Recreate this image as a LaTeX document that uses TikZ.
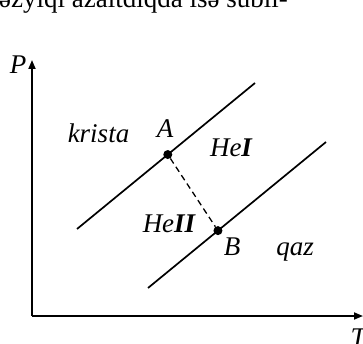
\documentclass[tikz,border=0pt]{standalone}
\usepackage{fontspec}
\setmainfont{Liberation Serif}
\newfontfamily\timesfont{Liberation Serif}
\usetikzlibrary{arrows.meta,calc}
\tikzset{
  axis/.style={-{Triangle[length=9pt,width=7pt]},line width=1.7pt},
  phaseline/.style={line width=1.7pt},
  tieline/.style={line width=1.3pt,dash pattern=on 6pt off 4pt},
  dot/.style={circle,fill,inner sep=0pt,minimum size=9pt},
  lbl/.style={font=\timesfont\fontsize{27}{30}\selectfont\itshape,inner sep=0pt},
  pagetext/.style={font=\timesfont\fontsize{27}{30}\selectfont,inner sep=0pt}
}

\begin{document}
\begin{tikzpicture}[x=1pt,y=-1pt]
  \useasboundingbox (0,0) rectangle (363,344);
  \clip (0,0) rectangle (363,344);
  % text line of the page above the figure
  \node[pagetext,anchor=base west] (pageline) at (-1,8) {əzyiqi azaltdıqda isə subli-};
  % axes
  \coordinate (O) at (32,316);
  \coordinate (Ptip) at (32,60);
  \coordinate (Ttip) at (363,316);
  \draw[axis] (O) -- (Ptip);
  \draw[axis] (O) -- (Ttip);
  \node[lbl,anchor=base] (P) at (18,74) {P};
  \node[lbl,anchor=base] (T) at (358,346) {T};
  % phase boundaries
  \coordinate (up1) at (77,229);
  \coordinate (up2) at (255,83);
  \coordinate (lo1) at (148,288);
  \coordinate (lo2) at (326,142);
  \draw[phaseline] (up1) -- (up2);
  \draw[phaseline] (lo1) -- (lo2);
  \node[dot] (A) at ($(up1)!0.51!(up2)$) {};
  \node[dot] (B) at ($(lo1)!0.393!(lo2)$) {};
  \draw[tieline] (A) -- (B);
  % labels
  \node[lbl,anchor=base] (krista) at (98.5,143) {krista};
  \node[lbl,anchor=base] (Alab) at (165,138) {A};
  \node[lbl,anchor=base] (HeI) at (231,157) {He\textbf{I}};
  \node[lbl,anchor=base] (HeII) at (169,232) {He\textbf{II}};
  \node[lbl,anchor=base] (Blab) at (232,255) {B};
  \node[lbl,anchor=base] (qaz) at (295,255) {qaz};
\end{tikzpicture}
\end{document}
